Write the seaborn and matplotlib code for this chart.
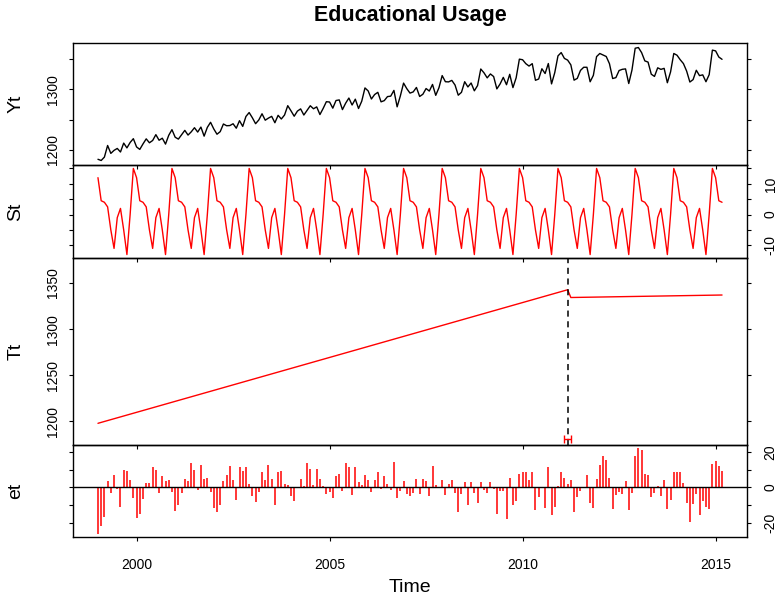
import numpy as np
import pandas as pd
import matplotlib
matplotlib.use("Agg")
import matplotlib.pyplot as plt
import seaborn as sns

sns.set_style("ticks")
plt.rcParams["font.family"] = ["Liberation Sans", "DejaVu Sans"]
plt.rcParams["axes.unicode_minus"] = False
plt.rcParams["text.color"] = "black"
plt.rcParams["xtick.color"] = "black"
plt.rcParams["ytick.color"] = "black"
plt.rcParams["xtick.labelcolor"] = "black"
plt.rcParams["ytick.labelcolor"] = "black"

# ---------------- data (monthly, Jan 1999 - Mar 2015) ----------------
start_year = 1999
n_obs = 195

yt_values = [
    1184.0, 1182.0, 1187.6, 1206.9, 1193.8, 1198.8, 1202.0, 1196.1, 1210.9, 1202.9, 1211.9, 1218.2,
    1204.5, 1200.4, 1209.5, 1217.9, 1211.4, 1215.2, 1224.9, 1215.6, 1219.0, 1209.2, 1223.8, 1233.2,
    1220.6, 1217.5, 1224.6, 1232.0, 1224.2, 1229.6, 1236.4, 1229.2, 1237.5, 1222.4, 1237.0, 1245.4,
    1234.4, 1225.6, 1229.9, 1242.6, 1239.7, 1240.0, 1243.0, 1235.6, 1248.1, 1238.6, 1255.1, 1261.6,
    1252.9, 1243.1, 1249.3, 1259.6, 1248.9, 1252.4, 1255.3, 1244.7, 1257.0, 1250.9, 1257.5, 1273.0,
    1264.5, 1255.5, 1264.0, 1267.7, 1257.5, 1265.3, 1272.9, 1267.9, 1271.0, 1258.3, 1268.4, 1279.6,
    1279.1, 1268.9, 1281.6, 1282.6, 1266.5, 1277.2, 1285.7, 1274.1, 1283.8, 1268.3, 1280.5, 1302.5,
    1297.5, 1284.1, 1291.5, 1295.2, 1279.4, 1281.4, 1288.1, 1288.8, 1298.4, 1271.1, 1289.2, 1310.5,
    1301.3, 1293.9, 1295.9, 1303.3, 1288.3, 1292.0, 1301.5, 1297.3, 1308.3, 1290.2, 1302.8, 1323.0,
    1312.8, 1312.5, 1315.0, 1307.3, 1290.4, 1295.2, 1312.8, 1304.1, 1310.7, 1297.7, 1306.4, 1333.9,
    1327.6, 1319.2, 1325.7, 1321.4, 1300.9, 1309.0, 1320.0, 1307.8, 1325.1, 1303.0, 1319.3, 1350.3,
    1349.3, 1342.8, 1338.8, 1342.8, 1315.2, 1317.3, 1334.3, 1326.4, 1343.0, 1309.2, 1327.9, 1355.7,
    1361.2, 1351.5, 1348.7, 1340.8, 1315.4, 1318.3, 1331.6, 1336.8, 1336.8, 1312.7, 1323.4, 1354.5,
    1359.7, 1357.3, 1354.7, 1342.8, 1318.1, 1319.6, 1331.4, 1333.4, 1334.1, 1309.8, 1332.2, 1368.4,
    1369.6, 1361.1, 1347.4, 1345.4, 1325.3, 1321.6, 1335.9, 1333.3, 1335.0, 1311.1, 1329.1, 1359.7,
    1356.8, 1349.3, 1342.9, 1330.4, 1312.3, 1316.3, 1331.8, 1322.9, 1324.2, 1312.8, 1324.5, 1365.3,
    1364.0, 1353.8, 1350.0,
]

st_values = [
    12, 4.5, 4, 2.5, -5, -11, -1, 2, -5, -13, 0, 15,
    12, 4.5, 4, 2.5, -5, -11, -1, 2, -5, -13, 0, 15,
    12, 4.5, 4, 2.5, -5, -11, -1, 2, -5, -13, 0, 15,
    12, 4.5, 4, 2.5, -5, -11, -1, 2, -5, -13, 0, 15,
    12, 4.5, 4, 2.5, -5, -11, -1, 2, -5, -13, 0, 15,
    12, 4.5, 4, 2.5, -5, -11, -1, 2, -5, -13, 0, 15,
    12, 4.5, 4, 2.5, -5, -11, -1, 2, -5, -13, 0, 15,
    12, 4.5, 4, 2.5, -5, -11, -1, 2, -5, -13, 0, 15,
    12, 4.5, 4, 2.5, -5, -11, -1, 2, -5, -13, 0, 15,
    12, 4.5, 4, 2.5, -5, -11, -1, 2, -5, -13, 0, 15,
    12, 4.5, 4, 2.5, -5, -11, -1, 2, -5, -13, 0, 15,
    12, 4.5, 4, 2.5, -5, -11, -1, 2, -5, -13, 0, 15,
    12, 4.5, 4, 2.5, -5, -11, -1, 2, -5, -13, 0, 15,
    12, 4.5, 4, 2.5, -5, -11, -1, 2, -5, -13, 0, 15,
    12, 4.5, 4, 2.5, -5, -11, -1, 2, -5, -13, 0, 15,
    12, 4.5, 4, 2.5, -5, -11, -1, 2, -5, -13, 0, 15,
    12, 4.5, 4,
]

et_values = [
    -26, -21.5, -16.4, 3.4, -3.2, 6.8, -1, -10.8, 10, 9, 4, -5.7,
    -17.4, -15, -6.4, 2.5, 2.5, 11.3, 10, -3.2, 6.2, 3.4, 4, -2.6,
    -13.2, -9.8, -3.2, 4.7, 3.4, 13.8, 9.6, -1.5, 12.8, 4.7, 5.3, -2.3,
    -11.3, -13.6, -9.8, 3.4, 7, 12.3, 4.3, -7, 11.5, 9, 11.5, 2,
    -4.7, -8, -2.3, 8.5, 4.3, 12.8, 4.7, -9.8, 8.5, 9.4, 2, 1.5,
    -5, -7.5, 0.5, 4.7, 1, 13.8, 10.4, 1.5, 10.6, 4.9, 1, -3.8,
    -2.3, -6, 6.2, 7.7, -1.9, 13.8, 11.3, -4.2, 11.5, 3, 1.2, 7.2,
    4.3, -2.6, 4.3, 8.5, -0.8, 6.2, 1.9, -1.3, 14.3, -6, -1.9, 3.4,
    -3.8, -4.7, -3.2, 4.7, -3.8, 4.9, 3.4, -4.7, 12.3, 1.2, -0.2, 4,
    -4.2, 2, 4, -3.2, -13.6, -3.8, 2.8, -9.8, 2.8, -3.2, -8.5, 3,
    -1.3, -3.2, 2.8, -1, -15, -1.9, -1.9, -18, 5.3, -9.8, -7.5, 7.5,
    8.5, 8.5, 4, 8.5, -12.6, -5.5, 0.5, -11.3, 11.3, -15.5, -10.8, 1,
    8.5, 5.3, 2, 4, -14, -5.1, -1.9, 0.3, 7.2, -8.9, -11.3, 4.7,
    12.8, 17.9, 15.7, 5.3, -12, -4.5, -2.8, -3.8, 3.8, -12.6, -3.2, 17.9,
    22, 21, 7.7, 7.2, -5.5, -3.2, 1, -4.7, 4, -12, -7, 8.5,
    8.5, 8.5, 2.5, -8.5, -19.2, -9.2, -3.8, -15.8, -7.5, -11, -12.3, 13.4,
    15.1, 12.3, 9,
]

# trend: vertices of the piecewise-linear trend
tt_time = [1999.0, 2011.1667, 2011.25, 2015.1667]
tt_values = [1198.0, 1342.7, 1334.3, 1337.0]

breakpoint_time = 2011.1667
ci_low, ci_high = 2011.08, 2011.26
ci_level = 1181.0

x_ticks = [2000, 2005, 2010, 2015]

time = start_year + np.arange(n_obs) / 12.0
df = pd.DataFrame({"time": time, "Yt": yt_values, "St": st_values, "et": et_values})
df_tt = pd.DataFrame({"time": tt_time, "Tt": tt_values})

# ---------------- layout ----------------
W, H = 781, 601
fig = plt.figure(figsize=(W / 100, H / 100), dpi=100)
L, R = 73, 747

def rect(top, bottom):
    return [L / W, 1 - bottom / H, (R - L) / W, (bottom - top) / H]

ax1 = fig.add_axes(rect(43, 165))
ax2 = fig.add_axes(rect(165, 258))
ax3 = fig.add_axes(rect(258, 445))
ax4 = fig.add_axes(rect(445, 537))
axes = [ax1, ax2, ax3, ax4]

def rlim(vals):
    lo, hi = min(vals), max(vals)
    p = 0.04 * (hi - lo)
    return lo - p, hi + p

xlo, xhi = rlim([time[0], time[-1]])

sns.lineplot(data=df, x="time", y="Yt", ax=ax1, color="black", lw=1.0, estimator=None)
sns.lineplot(data=df, x="time", y="St", ax=ax2, color="red", lw=1.0, estimator=None)
sns.lineplot(data=df_tt, x="time", y="Tt", ax=ax3, color="red", lw=1.0, estimator=None)
ax3.axvline(breakpoint_time, color="black", lw=1.1, ls=(0, (4, 3)))
ax3.errorbar([breakpoint_time], [ci_level],
             xerr=[[breakpoint_time - ci_low], [ci_high - breakpoint_time]],
             fmt="none", ecolor="red", elinewidth=1.0, capsize=3, capthick=1.0,
             clip_on=False)
ax4.vlines(df["time"], 0, df["et"], color="red", lw=1.1)
ax4.axhline(0, color="black", lw=1.0)

ax1.set_ylim(*rlim(yt_values))
ax2.set_ylim(*rlim(st_values))
ax3.set_ylim(*rlim(yt_values))
ax4.set_ylim(*rlim(et_values))

yticks = {
    ax1: ([1200, 1250, 1300, 1350], ["1200", "", "1300", ""], "left"),
    ax2: ([-10, -5, 0, 5, 10, 15], ["-10", "", "0", "", "10", ""], "right"),
    ax3: ([1200, 1250, 1300, 1350], ["1200", "1250", "1300", "1350"], "left"),
    ax4: ([-20, -10, 0, 10, 20], ["-20", "", "0", "", "20"], "right"),
}
names = {ax1: "Yt", ax2: "St", ax3: "Tt", ax4: "et"}

for ax in axes:
    ax.set_facecolor("none")
    ax.set_xlim(xlo, xhi)
    ax.set_xticks(x_ticks)
    ax.set_xlabel("")
    ax.set_ylabel("")
    for s in ax.spines.values():
        s.set_visible(True)
        s.set_color("black")
        s.set_linewidth(1.0)
    ticks, labels, side = yticks[ax]
    ax.set_yticks(ticks)
    ax.set_yticklabels(labels, rotation=90, va="center", fontsize=10, color="black")
    ax.tick_params(axis="y", direction="out", length=3, width=0.8, color="black",
                   left=True, right=True,
                   labelleft=(side == "left"), labelright=(side == "right"),
                   pad=(6 if side == "left" else 9))
    ax.tick_params(axis="x", direction="out", length=3, width=0.8, color="black",
                   bottom=True, top=False, labelbottom=(ax is ax4), labelsize=10, pad=12)
    ax.grid(False)
    b = ax.get_position()
    fig.text(16 / W, b.y0 + b.height / 2, names[ax], rotation=90, ha="center",
             va="center", fontsize=14, color="black")

for lab in ax4.get_xticklabels():
    lab.set_fontsize(10)
    lab.set_color("black")

fig.text((L + R) / 2 / W, 1 - 15 / H, "Educational Usage", ha="center", va="center",
         fontsize=15.5, fontweight="bold", color="black")
fig.text((L + R) / 2 / W, 1 - 588 / H, "Time", ha="center", va="center", fontsize=14,
         color="black")

fig.savefig("out.png", dpi=100)
